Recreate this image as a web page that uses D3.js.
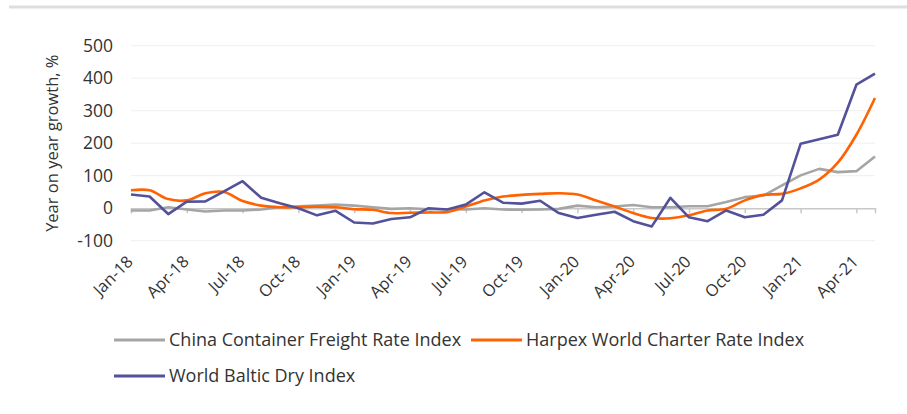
<!DOCTYPE html>
<html>
<head>
<meta charset="utf-8">
<script src="https://cdn.jsdelivr.net/npm/d3@7"></script>
<style>
  body { margin: 0; background: #fff; }
  text { font-family: "Open Sans", sans-serif; fill: #333; }
</style>
</head>
<body>
<svg id="chart" width="907" height="414"></svg>
<script>
const MONTHS = [
  "Jan-18", "Feb-18", "Mar-18", "Apr-18", "May-18", "Jun-18", "Jul-18", "Aug-18", "Sep-18", "Oct-18", "Nov-18", "Dec-18",
  "Jan-19", "Feb-19", "Mar-19", "Apr-19", "May-19", "Jun-19", "Jul-19", "Aug-19", "Sep-19", "Oct-19", "Nov-19", "Dec-19",
  "Jan-20", "Feb-20", "Mar-20", "Apr-20", "May-20", "Jun-20", "Jul-20", "Aug-20", "Sep-20", "Oct-20", "Nov-20", "Dec-20",
  "Jan-21", "Feb-21", "Mar-21", "Apr-21", "May-21",
];

const TICK_LABELS = [
  "Jan-18", "Apr-18", "Jul-18", "Oct-18", "Jan-19", "Apr-19", "Jul-19",
  "Oct-19", "Jan-20", "Apr-20", "Jul-20", "Oct-20", "Jan-21", "Apr-21",
];

const Y_TICKS = [-100, 0, 100, 200, 300, 400, 500];

// china container freight rate index
const china = [
  -7, -7, 3, -4, -10, -7, -7, -4, 3, 6, 8, 11,
  8, 3, -2, 0, -3, -3, -4, 0, -4, -5, -4, -2,
  8, 3, 5, 10, 3, 3, 6, 6, 19, 34, 39, 70,
  101, 121, 111, 114, 159,
];

// harpex world charter rate index
const harpex = [
  55, 55, 28, 24, 46, 50, 22, 8, 3, 3, 5, 3,
  -3, -5, -15, -14, -13, -12, 5, 24, 36, 41, 44, 46,
  42, 24, 5, -15, -30, -31, -22, -7, -2, 24, 41, 44,
  61, 88, 140, 226, 339,
];

// world baltic dry index
const baltic = [
  42, 36, -18, 20, 21, 52, 83, 32, 15, 0, -22, -8,
  -44, -47, -33, -28, 0, -4, 11, 49, 17, 14, 23, -15,
  -30, -20, -11, -40, -56, 32, -28, -40, -7, -28, -20, 24,
  198, 212, 226, 380, 414,
];

const SERIES = [
  { name: "China Container Freight Rate Index", values: china, color: "#a5a5a5", curve: d3.curveLinear },
  { name: "Harpex World Charter Rate Index", values: harpex, color: "#ff6200", curve: d3.curveCatmullRom },
  { name: "World Baltic Dry Index", values: baltic, color: "#52519a", curve: d3.curveLinear },
];

const svg = d3.select("#chart");

// header rule
svg.append("line")
  .attr("x1", 9).attr("x2", 907)
  .attr("y1", 7).attr("y2", 7)
  .attr("stroke", "#dedede")
  .attr("stroke-width", 3);

const x = d3.scalePoint().domain(MONTHS).range([131, 875]);
const y = d3.scaleLinear().domain([-100, 500]).range([240.7, 45.7]);

// gridlines
svg.append("g")
  .selectAll("line")
  .data(Y_TICKS.filter((d) => d !== 0))
  .join("line")
  .attr("x1", x.range()[0])
  .attr("x2", x.range()[1])
  .attr("y1", (d) => y(d))
  .attr("y2", (d) => y(d))
  .attr("stroke", "#efefef")
  .attr("stroke-width", 1);

// y axis labels (plain hyphen, not the unicode minus)
const yAxis = svg.append("g")
  .attr("transform", `translate(${x.range()[0]},0)`)
  .call(d3.axisLeft(y).tickValues(Y_TICKS).tickSize(0).tickPadding(18).tickFormat((d) => String(d)));
yAxis.select(".domain").remove();
yAxis.selectAll("text")
  .attr("font-size", 17.5)
  .attr("font-family", "Open Sans, sans-serif")
  .attr("fill", "#333");

svg.append("text")
  .attr("transform", `translate(58, ${(y(-100) + y(500)) / 2}) rotate(-90)`)
  .attr("text-anchor", "middle")
  .attr("font-size", 16.5)
  .text("Year on year growth, %");

// x axis on the zero line
const xAxis = svg.append("g")
  .attr("transform", `translate(0,${y(0)})`)
  .call(d3.axisBottom(x).tickValues(TICK_LABELS).tickSize(5).tickFormat(() => ""));
xAxis.select(".domain").attr("stroke", "#c8c8c8").attr("stroke-width", 1.5);
xAxis.selectAll(".tick line").attr("stroke", "#c8c8c8").attr("stroke-width", 1.5);

svg.append("g")
  .selectAll("text")
  .data(TICK_LABELS)
  .join("text")
  .attr("text-anchor", "end")
  .attr("font-size", 16.5)
  .attr("transform", (d) => `translate(${x(d) + 3}, ${y(-100) + 22}) rotate(-45)`)
  .text((d) => d);

// lines
SERIES.forEach((s) => {
  svg.append("path")
    .datum(s.values)
    .attr("fill", "none")
    .attr("stroke", s.color)
    .attr("stroke-width", 2.6)
    .attr("stroke-linejoin", "round")
    .attr("d", d3.line()
      .x((d, i) => x(MONTHS[i]))
      .y((d) => y(d))
      .curve(s.curve));
});

// legend
const legendPos = [[114, 340], [471, 340], [114, 376]];
const legend = svg.append("g")
  .selectAll("g")
  .data(SERIES)
  .join("g")
  .attr("transform", (d, i) => `translate(${legendPos[i][0]}, ${legendPos[i][1]})`);

legend.append("line")
  .attr("x1", 0).attr("x2", 51)
  .attr("stroke", (d) => d.color)
  .attr("stroke-width", 3);

legend.append("text")
  .attr("x", 55)
  .attr("dy", "0.35em")
  .attr("font-size", 18)
  .text((d) => d.name);
</script>
</body>
</html>
